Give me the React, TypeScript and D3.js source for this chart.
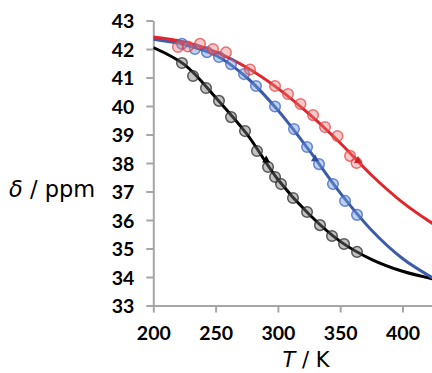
import * as d3 from "d3";
import { useEffect, useRef } from "react";

/* -----------------------------
   Data
----------------------------- */

// measured points, T in K, delta in ppm
const blackT = [223, 231.9, 242.3, 252.7, 262.4, 273.6, 283.2, 292.1, 297.7, 302.5, 312.1, 323.4, 333.8, 343.4, 353.1, 363.5];
const blackDelta = [41.51, 41.05, 40.63, 40.18, 39.61, 39.12, 38.42, 37.86, 37.51, 37.26, 36.77, 36.28, 35.82, 35.44, 35.16, 34.88];

const blueT = [223, 233.4, 243.1, 252.7, 262.4, 272.8, 282.4, 297.7, 312.9, 323.4, 333, 344.2, 353.9, 363.5];
const blueDelta = [42.18, 42.0, 41.89, 41.72, 41.47, 41.12, 40.7, 39.98, 39.19, 38.56, 37.96, 37.26, 36.67, 36.18];

const redT = [219.8, 227.8, 237.5, 247.9, 258.3, 277.6, 297.7, 308.1, 318.1, 328.2, 337.8, 347.8, 357.9, 363.1];
const redDelta = [42.07, 42.09, 42.18, 42.0, 41.88, 41.28, 40.7, 40.42, 40.07, 39.68, 39.26, 38.95, 38.25, 38.0];

// fitted curves
const fitT = [200, 225, 250, 275, 300, 325, 350, 375, 400, 425];
const blackFit = [42.05, 41.45, 40.3, 39.02, 37.42, 36.2, 35.25, 34.62, 34.2, 33.93];
const blueFit = [42.34, 42.15, 41.78, 41.0, 39.85, 38.45, 36.95, 35.65, 34.65, 33.95];
const redFit = [42.42, 42.25, 41.9, 41.35, 40.62, 39.72, 38.7, 37.58, 36.62, 35.85];

// small triangle marks on each curve
const markT = [290.6, 329.8, 364.3];
const markDelta = [38.1, 38.14, 38.08];

const xTicks = [200, 250, 300, 350, 400];
const yTicks = [33, 34, 35, 36, 37, 38, 39, 40, 41, 42, 43];

/* -----------------------------
   Types
----------------------------- */

type Series = {
  name: string;
  t: number[];
  delta: number[];
  fit: number[];
  line: string;
  fill: string;
  stroke: string;
};

const series: Series[] = [
  { name: "black", t: blackT, delta: blackDelta, fit: blackFit, line: "#000000", fill: "rgba(120,120,120,0.45)", stroke: "rgba(40,40,40,0.75)" },
  { name: "blue", t: blueT, delta: blueDelta, fit: blueFit, line: "#3b5ca9", fill: "rgba(110,150,215,0.45)", stroke: "rgba(60,100,200,0.75)" },
  { name: "red", t: redT, delta: redDelta, fit: redFit, line: "#e0262a", fill: "rgba(235,120,120,0.4)", stroke: "rgba(230,60,60,0.7)" },
];

/* -----------------------------
   Component
----------------------------- */

export default function App() {
  const ref = useRef<SVGSVGElement>(null);

  useEffect(() => {
    if (!ref.current) return;

    const width = 432;
    const height = 373;
    const left = 153.3;
    const top = 20.5;
    const bottom = 305.5;
    const axisColor = "#a6a6a6";

    const svg = d3.select(ref.current);
    svg.selectAll("*").remove();

    const x = d3.scaleLinear().domain([200, 450]).range([left, left + 62.3 * 5]);
    const y = d3.scaleLinear().domain([33, 43]).range([bottom, top]);

    svg
      .append("defs")
      .append("clipPath")
      .attr("id", "plot")
      .append("rect")
      .attr("x", left)
      .attr("y", 0)
      .attr("width", width - left)
      .attr("height", bottom + 2);

    // Axes
    const yAxis = svg
      .append("g")
      .attr("transform", `translate(${left},0)`)
      .call(d3.axisLeft(y).tickValues(yTicks).tickSize(7).tickPadding(12).tickSizeOuter(0));

    const xAxis = svg
      .append("g")
      .attr("transform", `translate(0,${bottom})`)
      .call(d3.axisBottom(x).tickValues(xTicks).tickSize(7).tickPadding(13).tickSizeOuter(0));

    [yAxis, xAxis].forEach((a) => {
      a.select(".domain").attr("stroke", axisColor).attr("stroke-width", 2);
      a.selectAll(".tick line").attr("stroke", axisColor).attr("stroke-width", 2);
      a.selectAll(".tick text")
        .attr("fill", "#000")
        .style("font-family", "Lato, 'Open Sans', sans-serif")
        .style("font-size", "19.5px")
        .style("font-weight", "700");
    });
    yAxis.selectAll(".tick text").attr("dy", "0.36em");
    xAxis.selectAll(".tick text").attr("dy", "0.72em");

    const plot = svg.append("g").attr("clip-path", "url(#plot)");

    const line = d3
      .line<number>()
      .x((_, i) => x(fitT[i]))
      .y((d) => y(d))
      .curve(d3.curveCatmullRom);

    // Fitted curves
    series.forEach((s) => {
      plot
        .append("path")
        .attr("d", line(s.fit))
        .attr("fill", "none")
        .attr("stroke", s.line)
        .attr("stroke-width", 3);
    });

    // Measured points
    series.forEach((s) => {
      plot
        .append("g")
        .selectAll("circle")
        .data(s.t)
        .join("circle")
        .attr("cx", (d) => x(d))
        .attr("cy", (_, i) => y(s.delta[i]))
        .attr("r", 5.3)
        .attr("fill", s.fill)
        .attr("stroke", s.stroke)
        .attr("stroke-width", 1.5);
    });

    // Triangle marks
    plot
      .selectAll("path.mark")
      .data(markT)
      .join("path")
      .attr("class", "mark")
      .attr("d", d3.symbol(d3.symbolTriangle, 28))
      .attr("transform", (d, i) => `translate(${x(d)},${y(markDelta[i])})`)
      .attr("fill", (_, i) => ["#000000", "#2f4f9a", "#d42024"][i]);

    // Axis titles
    const title = svg
      .append("text")
      .attr("x", 306)
      .attr("y", 367)
      .attr("text-anchor", "middle")
      .style("font-family", "'DejaVu Sans', sans-serif")
      .style("font-size", "21px");
    title.append("tspan").style("font-style", "italic").text("T");
    title.append("tspan").text(" / K");

    const yTitle = svg
      .append("text")
      .attr("x", 9)
      .attr("y", 197)
      .style("font-family", "'DejaVu Sans', sans-serif")
      .style("font-size", "22.5px");
    yTitle.append("tspan").style("font-style", "italic").text("δ");
    yTitle.append("tspan").text(" / ppm");

    svg.attr("width", width).attr("height", height);
  }, []);

  return (
    <svg
      ref={ref}
      width={432}
      height={373}
      style={{ position: "absolute", left: 0, top: 0, background: "white" }}
    />
  );
}
